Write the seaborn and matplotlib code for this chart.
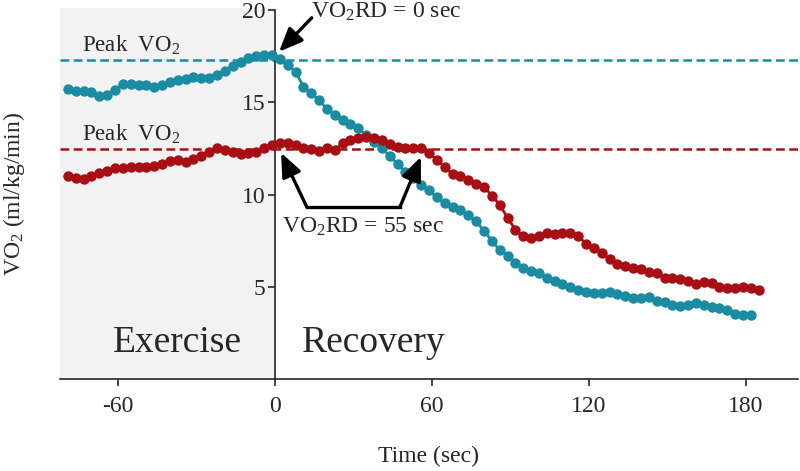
import matplotlib
matplotlib.use("Agg")
import matplotlib.pyplot as plt
import seaborn as sns

# ==========================
# DATA
# ==========================

teal_time = list(range(-79, 183, 3))
teal_vo2 = [15.7, 15.6, 15.6, 15.55, 15.35, 15.4, 15.65, 16.0, 16.0, 15.95,
            15.95, 15.85, 15.95, 16.1, 16.2, 16.25, 16.35, 16.3, 16.3, 16.5,
            16.7, 16.95, 17.2, 17.4, 17.5, 17.55, 17.55, 17.35, 17.0, 16.65,
            15.85, 15.5, 15.1, 14.65, 14.3, 14.05, 13.8, 13.6, 13.2, 12.85,
            12.5, 12.1, 11.65, 11.25, 10.9, 10.5, 10.25, 9.85, 9.55, 9.35,
            9.15, 8.9, 8.55, 8.05, 7.5, 7.0, 6.7, 6.3, 6.05, 5.85,
            5.75, 5.5, 5.3, 5.15, 5.0, 4.85, 4.72, 4.68, 4.65, 4.72,
            4.6, 4.52, 4.42, 4.38, 4.45, 4.25, 4.18, 4.05, 3.97, 4.0,
            4.12, 4.05, 3.92, 3.85, 3.76, 3.55, 3.5, 3.5]

red_time = list(range(-79, 186, 3))
red_vo2 = [11.0, 10.9, 10.85, 11.0, 11.15, 11.3, 11.45, 11.45, 11.5, 11.5,
           11.5, 11.55, 11.65, 11.8, 11.87, 11.75, 11.95, 12.1, 12.3, 12.5,
           12.4, 12.28, 12.22, 12.25, 12.3, 12.55, 12.7, 12.78, 12.8, 12.7,
           12.55, 12.45, 12.35, 12.5, 12.4, 12.8, 12.95, 13.05, 13.1, 13.05,
           12.95, 12.75, 12.58, 12.53, 12.53, 12.5, 12.25, 11.9, 11.5, 11.1,
           11.0, 10.8, 10.6, 10.42, 9.95, 9.45, 8.75, 8.1, 7.75, 7.65,
           7.75, 7.9, 7.85, 7.95, 7.95, 7.75, 7.35, 7.1, 6.85, 6.5,
           6.25, 6.15, 6.05, 6.0, 5.82, 5.75, 5.5, 5.5, 5.45, 5.3,
           5.15, 5.25, 5.22, 5.02, 4.95, 4.95, 5.0, 4.95, 4.82]

peak_teal = 17.3
peak_red = 12.45

x_ticks = [-60, 0, 60, 120, 180]
y_ticks = [5, 10, 15, 20]

teal = "#1a8ca1"
red = "#a80f15"

# ==========================
# STYLE
# ==========================

sns.set_style("ticks")
plt.rcParams["font.family"] = ["Liberation Serif", "DejaVu Serif"]
plt.rcParams["mathtext.fontset"] = "custom"
plt.rcParams["mathtext.rm"] = "Liberation Serif"
plt.rcParams["mathtext.it"] = "Liberation Serif:italic"

fig = plt.figure(figsize=(8, 4.71), dpi=100)
ax = fig.add_axes([60 / 800, 1 - 379.4 / 471, 738 / 800, 371.4 / 471])

ax.set_xlim(-82, 200)
ax.set_ylim(0, 20.1)

# exercise shading
ax.axvspan(-82, 0, color="#f2f2f2", zorder=0, lw=0)

# peak lines
ax.axhline(peak_teal, color=teal, lw=1.8, dashes=(3.5, 1.8), zorder=1)
ax.axhline(peak_red, color=red, lw=1.8, dashes=(3.5, 1.8), zorder=1)

# ==========================
# SERIES
# ==========================

sns.lineplot(x=teal_time, y=teal_vo2, ax=ax, color=teal, lw=2,
             marker="o", markersize=7.5, markeredgewidth=0, zorder=3)
sns.lineplot(x=red_time, y=red_vo2, ax=ax, color=red, lw=2,
             marker="o", markersize=7.5, markeredgewidth=0, zorder=3)

# ==========================
# AXES
# ==========================

ax.spines["left"].set_position(("data", 0))
ax.spines["left"].set_bounds(0, 20)
ax.spines["right"].set_visible(False)
ax.spines["top"].set_visible(False)
for s in ["left", "bottom"]:
    ax.spines[s].set_linewidth(1.2)
    ax.spines[s].set_zorder(2)

ax.set_xticks(x_ticks)
ax.set_xticklabels([str(t) for t in x_ticks])
ax.set_yticks(y_ticks)
ax.set_yticklabels([str(t) for t in y_ticks])
ax.tick_params(axis="x", length=5, width=1.2, pad=7, labelsize=17)
ax.tick_params(axis="y", length=5, width=1.2, pad=1.5, labelsize=17)

ax.set_xlabel("Time (sec)", fontsize=17)
ax.xaxis.set_label_coords(0.5, -0.18)
ax.set_ylabel("VO$_2$ (ml/kg/min)", fontsize=17)
ax.yaxis.set_label_coords(-0.045, 0.5)

# ==========================
# TEXT / ANNOTATIONS
# ==========================

ax.text(-73.6, 17.73, "Peak  VO$_2$", fontsize=16.5)
ax.text(-73.6, 12.91, "Peak  VO$_2$", fontsize=16.5)
ax.text(-61.9, 1.48, "Exercise", fontsize=27)
ax.text(10.5, 1.48, "Recovery", fontsize=27)

arrow = dict(arrowstyle="-|>,head_length=0.9,head_width=0.38",
             lw=2.4, color="black", shrinkA=0, shrinkB=0)

ax.annotate("", xy=(1.7, 17.73), xytext=(14.2, 19.57), arrowprops=arrow,
            fontsize=16, annotation_clip=False)
ax.text(13.9, 19.55, "VO$_2$RD = 0 sec", fontsize=17, clip_on=False)

ax.annotate("", xy=(2.5, 12.26), xytext=(12.3, 9.33), arrowprops=arrow,
            fontsize=16)
ax.annotate("", xy=(55.9, 12.04), xytext=(47.9, 9.33), arrowprops=arrow,
            fontsize=16)
ax.plot([12.3, 47.9], [9.33, 9.33], color="black", lw=2.4,
        solid_capstyle="projecting")
ax.text(2.9, 7.93, "VO$_2$RD = 55 sec", fontsize=17)

fig.savefig("out.png", dpi=100)
